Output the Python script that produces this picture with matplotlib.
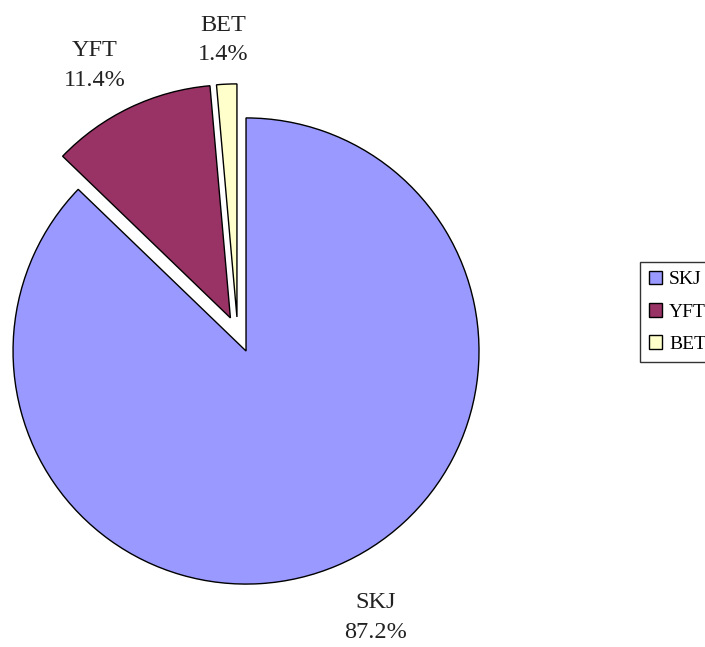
import numpy as np
import matplotlib.pyplot as plt

# Datos del gráfico
species = ['SKJ', 'YFT', 'BET']
shares = [87.2, 11.4, 1.4]
colors = ['#9999FF', '#993366', '#FFFFCC']

# desplazamiento de las porciones separadas (en radios)
offsets = [(0.0, 0.0), (-0.067, 0.142), (-0.039, 0.146)]
# posición de las etiquetas: distancia radial y giro (grados)
label_r = [1.27, 1.23, 1.19]
label_rot = [2.9, 2.7, 0.4]

plt.rcParams['font.family'] = ['Liberation Serif', 'DejaVu Serif']

fig = plt.figure(figsize=(7.05, 6.47), dpi=100)
ax = fig.add_axes([0, 0, 1, 1])

wedges, _ = ax.pie(shares, colors=colors, startangle=90, counterclock=False,
                   radius=1.0, wedgeprops=dict(edgecolor='black', linewidth=1.0))

for w, off, name, val, r, rot in zip(wedges, offsets, species, shares, label_r, label_rot):
    w.set_center(off)
    mid = np.deg2rad((w.theta1 + w.theta2) / 2 + rot)
    ax.text(off[0] + r * np.cos(mid), off[1] + r * np.sin(mid),
            f'{name}\n{val:.1f}%', ha='center', va='center',
            fontsize=17.5, linespacing=1.55, color='#222222')

ax.set_xlim(-1.056, 1.970)
ax.set_ylim(-1.270, 1.506)
ax.set_aspect('auto')
ax.axis('off')

leg = fig.legend(wedges, species, loc='upper left',
                 bbox_to_anchor=(640 / 705, 1 - 262 / 647),
                 fontsize=14, frameon=True, fancybox=False,
                 handlelength=0.7, handleheight=0.7, handletextpad=0.35,
                 borderpad=0.45, labelspacing=0.75, borderaxespad=0)
leg.get_frame().set_edgecolor('black')
leg.get_frame().set_linewidth(1.0)

fig.savefig('out.png', dpi=100)
